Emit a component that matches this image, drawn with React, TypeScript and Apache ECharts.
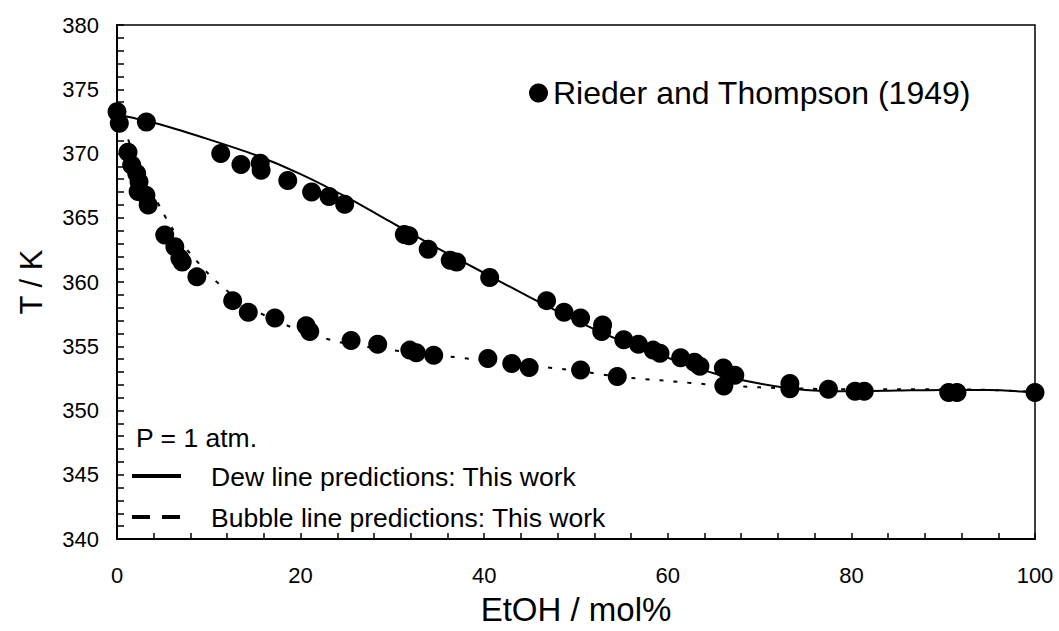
import React, { useEffect, useRef } from "react";
import * as echarts from "echarts";

// Experimental data: Rieder and Thompson (1949)
const dewX = [0.0, 0.25, 3.2, 11.3, 13.5, 15.6, 15.7, 18.6, 21.2, 23.1, 24.8, 31.3, 31.8, 33.9, 36.3, 37.0, 40.6, 46.8, 48.7, 50.5, 52.9, 52.8, 55.2, 56.8, 58.4, 59.15, 61.4, 62.9, 63.5, 66.05, 67.3, 73.3, 77.5, 80.4, 81.4, 90.6, 91.5, 100];
const dewT = [373.25, 372.35, 372.45, 370.0, 369.15, 369.25, 368.7, 367.9, 367.0, 366.65, 366.05, 363.7, 363.6, 362.55, 361.7, 361.55, 360.35, 358.55, 357.65, 357.2, 356.65, 356.15, 355.5, 355.15, 354.7, 354.45, 354.1, 353.75, 353.45, 353.3, 352.75, 352.1, 351.65, 351.5, 351.5, 351.4, 351.4, 351.4];
const bubbleX = [1.2, 1.6, 2.15, 2.4, 2.3, 3.15, 3.4, 5.2, 6.3, 6.85, 7.1, 8.7, 12.6, 14.3, 17.2, 20.6, 21.0, 25.5, 28.4, 31.9, 32.6, 34.5, 40.4, 43.0, 44.9, 50.5, 54.5, 66.1, 73.3];
const bubbleT = [370.1, 369.1, 368.45, 367.8, 367.05, 366.75, 366.0, 363.65, 362.75, 361.85, 361.55, 360.4, 358.55, 357.65, 357.2, 356.6, 356.15, 355.45, 355.15, 354.7, 354.5, 354.3, 354.05, 353.65, 353.35, 353.15, 352.65, 351.9, 351.7];

// Model predictions: This work
const dewCurveX = [0, 5, 10, 15, 20, 25, 30, 35, 40, 45, 50, 55, 60, 65, 70, 75, 80, 85, 90, 95, 100];
const dewCurveT = [373.05, 372.2, 371.1, 369.9, 368.4, 366.6, 364.6, 362.6, 360.7, 358.8, 357.0, 355.4, 354.1, 352.9, 352.1, 351.6, 351.5, 351.55, 351.6, 351.6, 351.4];
const bubbleCurveX = [0, 1, 2, 3, 4, 5, 6, 7, 8, 10, 12, 15, 20, 25, 30, 35, 40, 45, 50, 55, 60, 65, 70, 75, 80, 85, 90, 95, 100];
const bubbleCurveT = [373.1, 371.5, 369.6, 368.0, 366.8, 365.4, 364.2, 363.1, 362.2, 360.6, 359.3, 357.8, 356.2, 355.2, 354.7, 354.3, 353.9, 353.5, 353.1, 352.6, 352.3, 352.0, 351.8, 351.7, 351.65, 351.65, 351.65, 351.6, 351.45];

const xTitle = "EtOH / mol%";
const yTitle = "T / K";
const dataName = "Rieder and Thompson (1949)";
const pressureLabel = "P = 1 atm.";
const dewLabel = "Dew line predictions: This work";
const bubbleLabel = "Bubble line predictions: This work";

const FONT = "'Liberation Sans', Arial, sans-serif";

const zip = (xs: number[], ys: number[]) => xs.map((x, i) => [x, ys[i]]);

export default function App() {
  const ref = useRef<HTMLDivElement>(null);
  useEffect(() => {
    document.body.style.margin = "0";
    if (!ref.current) return;
    const chart = echarts.init(ref.current, undefined, { renderer: "svg" });
    const points = zip(dewX, dewT).concat(zip(bubbleX, bubbleT));
    chart.setOption({
      animation: false,
      backgroundColor: "#fff",
      textStyle: { fontFamily: FONT, color: "#000" },
      grid: {
        left: 117,
        right: 24,
        top: 25,
        bottom: 92,
        show: true,
        borderColor: "#000",
        borderWidth: 1.5,
        backgroundColor: "transparent",
      },
      legend: {
        data: [{ name: dataName, icon: "circle" }],
        left: 524,
        top: 72,
        itemWidth: 19,
        itemHeight: 19,
        textStyle: { fontSize: 32, fontFamily: FONT, color: "#000" },
      },
      xAxis: {
        type: "value",
        min: 0,
        max: 100,
        interval: 20,
        name: xTitle,
        nameLocation: "middle",
        nameGap: 54,
        nameTextStyle: { fontSize: 33, fontFamily: FONT, color: "#000" },
        axisLine: { show: true, onZero: false, lineStyle: { color: "#000", width: 2 } },
        axisTick: { show: true, inside: true, length: 6, lineStyle: { color: "#000", width: 1.5 } },
        minorTick: { show: true, splitNumber: 5, length: 6, lineStyle: { color: "#000", width: 1.5 } },
        axisLabel: { fontSize: 22, margin: 25, color: "#000", fontFamily: FONT },
        splitLine: { show: false },
      },
      yAxis: {
        type: "value",
        min: 340,
        max: 380,
        interval: 5,
        name: yTitle,
        nameLocation: "middle",
        nameGap: 70,
        nameRotate: 90,
        nameTextStyle: { fontSize: 31, fontFamily: FONT, color: "#000" },
        axisLine: { show: true, onZero: false, lineStyle: { color: "#000", width: 2 } },
        axisTick: { show: true, inside: true, length: 7, lineStyle: { color: "#000", width: 1.5 } },
        minorTick: { show: true, splitNumber: 5, length: 7, lineStyle: { color: "#000", width: 1.5 } },
        axisLabel: { fontSize: 22, margin: 18, color: "#000", fontFamily: FONT },
        splitLine: { show: false },
      },
      series: [
        {
          name: "Dew line",
          type: "line",
          data: zip(dewCurveX, dewCurveT),
          showSymbol: false,
          smooth: 0.25,
          lineStyle: { color: "#000", width: 2 },
          z: 2,
        },
        {
          name: "Bubble line",
          type: "line",
          data: zip(bubbleCurveX, bubbleCurveT),
          showSymbol: false,
          smooth: 0.25,
          lineStyle: { color: "#000", width: 2, type: [4, 10] },
          z: 2,
        },
        {
          name: dataName,
          type: "scatter",
          data: points,
          symbol: "circle",
          symbolSize: 19,
          itemStyle: { color: "#000", opacity: 1 },
          clip: false,
          z: 3,
        },
      ],
      graphic: [
        {
          type: "text",
          left: 136,
          top: 437 - 13,
          style: { text: pressureLabel, font: `26.5px ${FONT}`, fill: "#000" },
        },
        {
          type: "line",
          shape: { x1: 132, y1: 476, x2: 181, y2: 476 },
          style: { stroke: "#000", lineWidth: 4 },
        },
        {
          type: "text",
          left: 211,
          top: 476 - 13,
          style: { text: dewLabel, font: `26.5px ${FONT}`, fill: "#000" },
        },
        {
          type: "line",
          shape: { x1: 132, y1: 517, x2: 181, y2: 517 },
          style: { stroke: "#000", lineWidth: 4, lineDash: [18, 12] },
        },
        {
          type: "text",
          left: 211,
          top: 517 - 13,
          style: { text: bubbleLabel, font: `26.5px ${FONT}`, fill: "#000" },
        },
      ],
    });
    return () => chart.dispose();
  }, []);
  return <div ref={ref} style={{ width: 1059, height: 631 }} />;
}
